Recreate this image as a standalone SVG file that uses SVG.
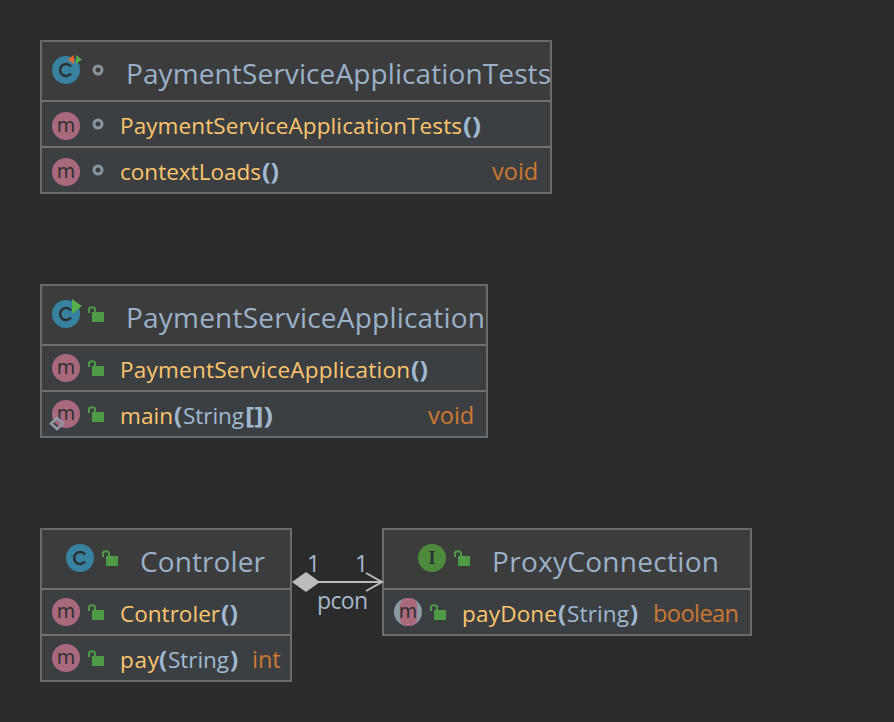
<svg xmlns="http://www.w3.org/2000/svg" width="894" height="722" viewBox="0 0 894 722">
<style>
text{font-family:"Open Sans","Noto Sans","Liberation Sans",sans-serif}
.box{fill:#3c3f41;stroke:#6b6b6b;stroke-width:2}
.head{fill:#3c3c3c}
.sep{stroke:#6f6f6f;stroke-width:2}
.title{font-size:28px;fill:#9ab1c9}
.m{font-size:22.5px;fill:#ffc66d}
.p{font-size:22.5px;fill:#a0b9d2}
.b{font-weight:700;font-size:24px}
.t{font-size:23.500px;fill:#cc7832}
.lab{font-size:23px;fill:#a5b8cb}
.cc{fill:#38819f}
.mc{fill:#a8697c}
.ic{font-size:19px;fill:#2d3134;text-anchor:middle;font-family:"DejaVu Sans",sans-serif}
.dot{fill:none;stroke:#8a949b;stroke-width:3}
.lb{fill:#4f9a47}
.ls{fill:none;stroke:#4f9a47;stroke-width:2}
</style>
<defs>
<g id="lock"><rect x="4" y="6" width="12" height="10" class="lb"/><path d="M1 7V3.500C1 0.500 7 0.500 7 3.500V6" class="ls"/></g>
<g id="mi"><circle cx="0" cy="0" r="14" class="mc"/><text x="0" y="6" class="ic">m</text></g>
<g id="ci"><circle cx="0" cy="0" r="14" class="cc"/><path d="M5 -3.500A6 6 0 1 0 5 3.500" fill="none" stroke="#2d3134" stroke-width="2.500"/></g>
</defs>
<rect width="894" height="722" fill="#2b2b2b"/>

<g id="PaymentServiceApplicationTests">
<rect x="41" y="41" width="510" height="152" class="box"/>
<rect x="42" y="42" width="508" height="59" class="head"/>
<path d="M41 101H551M41 147H551" class="sep"/>
<use href="#ci" x="66" y="70"/>
<path d="M74 55L68 59.500L74 64Z" fill="#e8682a"/><path d="M76 55L82 59.500L76 64Z" fill="#55a84b"/>
<circle cx="98" cy="70" r="4" class="dot"/>
<text x="126" y="84" class="title" textLength="425">PaymentServiceApplicationTests</text>
<use href="#mi" x="66" y="126"/><circle cx="98" cy="124" r="4" class="dot"/>
<text x="120" y="134" class="m" textLength="342">PaymentServiceApplicationTests</text><text x="463" y="134" class="p b" textLength="18" lengthAdjust="spacingAndGlyphs">()</text>
<use href="#mi" x="66" y="172"/><circle cx="98" cy="170" r="4" class="dot"/>
<text x="120" y="180" class="m" textLength="141">contextLoads</text><text x="262" y="180" class="p b" textLength="17" lengthAdjust="spacingAndGlyphs">()</text>
<text x="492" y="180" class="t">void</text>
</g>

<g id="PaymentServiceApplication">
<rect x="41" y="285" width="446" height="152" class="box"/>
<rect x="42" y="286" width="444" height="59" class="head"/>
<path d="M41 345H487M41 391H487" class="sep"/>
<use href="#ci" x="66" y="314"/>
<path d="M72 299L82 306L72 314Z" fill="#55b04b"/>
<use href="#lock" x="88" y="306"/>
<text x="126" y="328" class="title" textLength="359">PaymentServiceApplication</text>
<use href="#mi" x="66" y="368"/><use href="#lock" x="88" y="360"/>
<text x="120" y="378" class="m" textLength="290">PaymentServiceApplication</text><text x="411" y="378" class="p b" textLength="17" lengthAdjust="spacingAndGlyphs">()</text>
<use href="#mi" x="66" y="414"/><use href="#lock" x="88" y="406"/>
<path d="M57 418L63 423.500L57 429L51 423.500Z" fill="none" stroke="#8d9aa3" stroke-width="2.500"/>
<text x="120" y="424" class="m" textLength="53">main</text><text x="174" y="424" class="p b">(</text><text x="183" y="424" class="p" textLength="61">String</text><text x="245" y="424" class="p b" textLength="28" lengthAdjust="spacingAndGlyphs">[])</text>
<text x="428" y="424" class="t">void</text>
</g>

<g id="Controler">
<rect x="41" y="529" width="250" height="152" class="box"/>
<rect x="42" y="530" width="248" height="59" class="head"/>
<path d="M41 589H291M41 635H291" class="sep"/>
<use href="#ci" x="80" y="558"/>
<use href="#lock" x="102" y="550"/>
<text x="140" y="572" class="title" textLength="125">Controler</text>
<use href="#mi" x="66" y="612"/><use href="#lock" x="88" y="604"/>
<text x="120" y="622" class="m" textLength="100">Controler</text><text x="221" y="622" class="p b" textLength="17" lengthAdjust="spacingAndGlyphs">()</text>
<use href="#mi" x="66" y="658"/><use href="#lock" x="88" y="650"/>
<text x="120" y="668" class="m" textLength="39">pay</text><text x="159" y="668" class="p b">(</text><text x="168" y="668" class="p" textLength="61">String</text><text x="230" y="668" class="p b">)</text>
<text x="252" y="668" class="t">int</text>
</g>

<g id="ProxyConnection">
<rect x="383" y="529" width="368" height="106" class="box"/>
<rect x="384" y="530" width="366" height="59" class="head"/>
<path d="M383 589H751" class="sep"/>
<circle cx="432" cy="558" r="14" fill="#4d8a3e"/>
<text x="432" y="564" class="ic" font-weight="700" style="font-family:'Liberation Serif',serif;font-size:18px">I</text>
<use href="#lock" x="454" y="550"/>
<text x="492" y="572" class="title" textLength="227">ProxyConnection</text>
<circle cx="408" cy="612" r="14" fill="#8b98a1"/>
<rect x="400" y="598" width="17" height="28" rx="7" class="mc"/>
<text x="408" y="618" class="ic">m</text>
<use href="#lock" x="430" y="604"/>
<text x="462" y="622" class="m" textLength="95">payDone</text><text x="558" y="622" class="p b">(</text><text x="567" y="622" class="p" textLength="62">String</text><text x="630" y="622" class="p b">)</text>
<text x="653" y="622" class="t" textLength="86">boolean</text>
</g>

<g id="connectors">
<path d="M318 582H381" fill="none" stroke="#bcbcbc" stroke-width="2"/>
<path d="M366 573L382 582L366 591" fill="none" stroke="#bcbcbc" stroke-width="2"/>
<path d="M292 582L306 572L320 582L306 592Z" fill="#bcbcbc"/>
</g>
<text x="307" y="572" class="lab">1</text>
<text x="355" y="572" class="lab">1</text>
<text x="317" y="609" class="lab" textLength="51">pcon</text>
</svg>
